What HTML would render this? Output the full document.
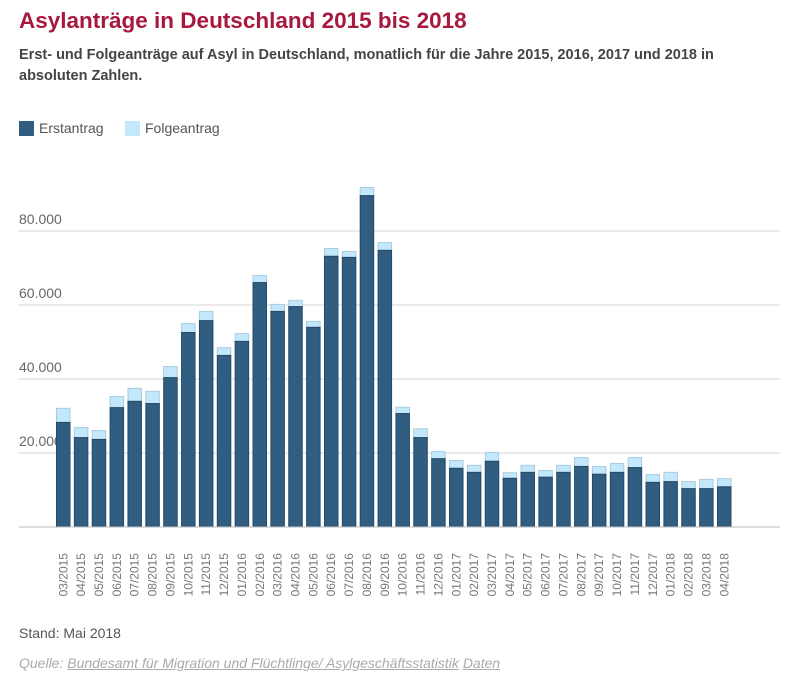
<!DOCTYPE html>
<html><head><meta charset="utf-8"><style>
body{margin:0;width:812px;height:674px;background:#fff;font-family:"Liberation Sans",sans-serif;overflow:hidden;position:relative}
#title{position:absolute;left:19px;top:8px;font-size:22.5px;font-weight:bold;color:#a8173d;margin:0}
#sub{position:absolute;left:19px;top:45px;width:730px;font-size:14.5px;font-weight:bold;color:#444;line-height:21px;margin:0}
.leg{position:absolute;top:120px;font-size:14px;color:#555;display:flex;align-items:center}
.sw{width:15px;height:15px;margin-right:5px}
#stand{position:absolute;left:19px;top:625px;font-size:14px;color:#555}
#quelle{position:absolute;left:19px;top:655px;font-size:14px;color:#aaa;font-style:italic}
#quelle a{color:#aaa;text-decoration:underline}
svg{position:absolute;left:0;top:0}
</style></head><body>
<h1 id="title">Asylanträge in Deutschland 2015 bis 2018</h1>
<p id="sub">Erst- und Folgeanträge auf Asyl in Deutschland, monatlich für die Jahre 2015, 2016, 2017 und 2018 in absoluten Zahlen.</p>
<div class="leg" style="left:19px"><div class="sw" style="background:#315d80"></div>Erstantrag</div>
<div class="leg" style="left:125px"><div class="sw" style="background:#c3e7fb"></div>Folgeantrag</div>
<svg id="chart" width="812" height="674"></svg>
<div id="stand">Stand: Mai 2018</div>
<div id="quelle">Quelle: <a>Bundesamt für Migration und Flüchtlinge/ Asylgeschäftsstatistik</a> <a>Daten</a></div>
<script>
const categories=["03/2015","04/2015","05/2015","06/2015","07/2015","08/2015","09/2015","10/2015","11/2015","12/2015","01/2016","02/2016","03/2016","04/2016","05/2016","06/2016","07/2016","08/2016","09/2016","10/2016","11/2016","12/2016","01/2017","02/2017","03/2017","04/2017","05/2017","06/2017","07/2017","08/2017","09/2017","10/2017","11/2017","12/2017","01/2018","02/2018","03/2018","04/2018"];
const erst=[28400,24300,23800,32400,34100,33500,40500,52700,55900,46500,50300,66200,58400,59700,54100,73300,73000,89700,74900,30800,24300,18600,16000,14900,17900,13300,14900,13600,14900,16500,14400,14900,16200,12200,12400,10500,10500,11000];
const total=[32200,27000,26200,35400,37600,36800,43500,55100,58400,48600,52400,68100,60300,61400,55700,75400,74600,91900,77000,32500,26700,20500,18100,16800,20300,14800,16800,15400,16800,18900,16500,17300,18900,14300,14900,12400,13000,13200];
const ticks=[20000,40000,60000,80000];
const tickLabels=["20.000","40.000","60.000","80.000"];
const ns="http://www.w3.org/2000/svg",svg=document.getElementById('chart');
const y0=527,pxPer=74/20000,x0=56,step=(717-56)/37,bw=14.5;
const y=v=>y0-v*pxPer, x=i=>x0+i*step;
function mk(t,a){const e=document.createElementNS(ns,t);for(const k in a)e.setAttribute(k,a[k]);svg.appendChild(e);return e;}
ticks.forEach((t,i)=>{
 const l=mk('line',{x1:19,x2:780,y1:y(t),y2:y(t),stroke:'#d4d4d4','stroke-width':1});
 
 
 const tx=mk('text',{x:19,y:y(t)-7,'font-size':14,fill:'#666','font-family':'Liberation Sans'});
 tx.textContent=tickLabels[i];
 
 
});
categories.forEach((c,i)=>{
 const f=mk('rect',{x:x(i)+0.5,y:y(total[i])+0.5,width:bw-1,height:(total[i]-erst[i])*pxPer,fill:'#c3e7fb',stroke:'#a9cde0','stroke-width':1});
 
 
 const e=mk('rect',{x:x(i)+0.5,y:y(erst[i])+0.5,width:bw-1,height:erst[i]*pxPer-0.5,fill:'#315d80',stroke:'#224a6a','stroke-width':1});
 
 
 const cx=x(i)+bw/2+4;
 const t=mk('text',{x:cx,y:553,'font-size':12,fill:'#777','font-family':'Liberation Sans','text-anchor':'end',transform:`rotate(-90 ${cx} 553)`});
 t.textContent=c;
 
 
});
const b=mk('line',{x1:19,x2:780,y1:y0,y2:y0,stroke:'#bbb','stroke-width':1});


</script>
</body></html>
